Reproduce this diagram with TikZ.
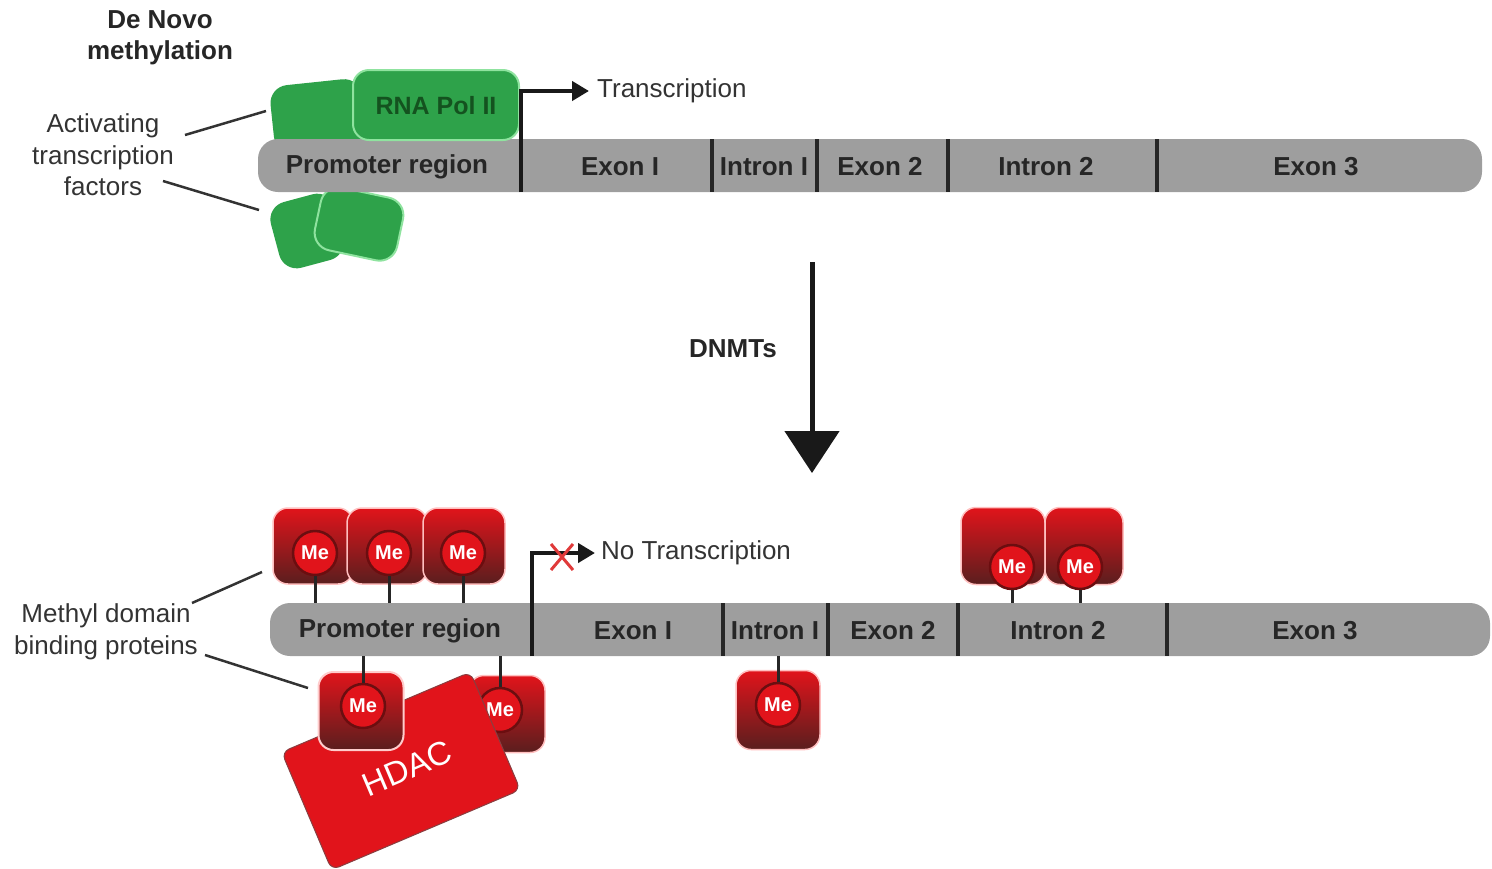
\documentclass[tikz,border=0pt]{standalone}
\usepackage{fontspec}
\setmainfont{Liberation Sans}
\usetikzlibrary{arrows.meta,calc}
\definecolor{dnagray}{HTML}{9E9E9E}
\definecolor{tfgreen}{HTML}{2EA24A}
\definecolor{tfedge}{HTML}{8FE39F}
\definecolor{polgreen}{HTML}{14521F}
\definecolor{mered}{HTML}{E1141B}
\definecolor{medark}{HTML}{5A1E1E}
\definecolor{meedge}{HTML}{6B0E10}
\definecolor{txtgray}{HTML}{333333}
\definecolor{xred}{HTML}{E03A3A}
\begin{document}
\begin{tikzpicture}[x=1pt,y=-1pt,
  dna/.style={fill=dnagray, rounded corners=20pt, minimum height=53pt, inner sep=0pt},
  seglabel/.style={font=\bfseries\fontsize{26}{30}\selectfont, text=black!85, inner sep=0pt},
  plain/.style={font=\fontsize{26}{31.5}\selectfont, text=txtgray, align=center, inner sep=0pt},
  boldlabel/.style={font=\bfseries\fontsize{26}{31}\selectfont, text=black!85, align=center, inner sep=0pt},
  divider/.style={line width=4pt, black!85},
  tfbox/.style={fill=tfgreen, rounded corners=18pt, inner sep=0pt},
  tfrim/.style={draw=tfedge, line width=2pt},
  mebox/.style={rounded corners=15pt, top color=mered, middle color=mered, bottom color=medark, draw=red!25, line width=1.5pt, inner sep=0pt},
  mecirc/.style={circle, minimum size=44pt, inner sep=0pt, fill=mered, draw=meedge, line width=2.5pt, text=white, font=\bfseries\fontsize{20}{24}\selectfont},
  stem/.style={line width=3pt, black!85},
  leader/.style={line width=2.5pt, txtgray},
  txarrow/.style={line width=4.5pt, black!90, -{Triangle[length=17pt,width=19pt]}},
]
\useasboundingbox (0,0) rectangle (1492,868);

% ---------- top panel ----------
\node[boldlabel] (denovo) at (160,38) {De Novo\\methylation};

% green factors behind bar
\node[tfbox, minimum width=92pt, minimum height=68pt, rotate=6] (tfback) at (318,116) {};
\node[tfbox, minimum width=66pt, minimum height=68pt, rotate=15] (tfb1) at (307,231) {};
\node[tfbox, tfrim, minimum width=84pt, minimum height=64pt, rotate=-12] (tfb2) at (359,224) {};

\node[dna, minimum width=1224pt] (bar1) at (870,165.5) {};
\node[tfbox, tfrim, minimum width=166pt, minimum height=70pt, rounded corners=16pt] (pol) at (436,105) {};
\node[font=\bfseries\fontsize{25}{30}\selectfont, text=polgreen] (poltext) at (436,106) {RNA Pol II};

\foreach \x in {712,817,948,1157} \draw[divider] (\x,139) -- (\x,192);
\node[seglabel] (p1) at (387,167) {Promoter region};
\node[seglabel] (e11) at (620,167) {Exon I};
\node[seglabel] (i11) at (764,167) {Intron I};
\node[seglabel] (e21) at (880,167) {Exon 2};
\node[seglabel] (i21) at (1046,167) {Intron 2};
\node[seglabel] (e31) at (1316,167) {Exon 3};

\coordinate (tss1) at (521,192);
\node[plain, anchor=west, inner xsep=8pt] (tx) at (589,91) {Transcription};
\draw[txarrow] (tss1) |- (tx.west);

\node[plain] (act) at (103,155) {Activating\\transcription\\factors};
\coordinate (a1) at (185,135);
\coordinate (a1e) at (266,111);
\coordinate (a2) at (163,181);
\coordinate (a2e) at (259,210);
\draw[leader] (a1) -- (a1e);
\draw[leader] (a2) -- (a2e);

% ---------- DNMTs arrow ----------
\coordinate (dstart) at (812,262);
\coordinate (dend) at (812,473);
\draw[line width=5pt, black!90, -{Triangle[length=42pt,width=54pt]}] (dstart) -- (dend);
\node[boldlabel] (dnmt) at (733,349) {DNMTs};

% ---------- bottom panel ----------
\node[dna, minimum width=1220pt] (bar2) at (880,629.5) {};
\foreach \x in {723,828,958,1167} \draw[divider] (\x,603) -- (\x,656);
\node[seglabel] (p2) at (400,631) {Promoter region};
\node[seglabel] (e12) at (633,631) {Exon I};
\node[seglabel] (i12) at (775,631) {Intron I};
\node[seglabel] (e22) at (893,631) {Exon 2};
\node[seglabel] (i22) at (1058,631) {Intron 2};
\node[seglabel] (e32) at (1315,631) {Exon 3};

\coordinate (tss2) at (532,656);
\node[plain, anchor=west, inner xsep=6pt] (ntx) at (595,553) {No Transcription};
\draw[txarrow] (tss2) |- (ntx.west);
\coordinate (xc) at (562,557);
\draw[xred, line width=3pt] ($(xc)+(-11,-13)$) -- ($(xc)+(11,13)$);
\draw[xred, line width=3pt] ($(xc)+(11,-13)$) -- ($(xc)+(-11,13)$);

% top promoter methyl-binding proteins
\node[mebox, minimum width=80pt, minimum height=76pt] (mb1) at (313,546) {};
\node[mebox, minimum width=80pt, minimum height=76pt] (mb2) at (387,546) {};
\node[mebox, minimum width=82pt, minimum height=76pt] (mb3) at (464,546) {};
\node[mecirc] (mc1) at (315,553) {Me};
\node[mecirc] (mc2) at (389,553) {Me};
\node[mecirc] (mc3) at (463,553) {Me};
\foreach \i in {1,2,3} \draw[stem] (mc\i.south) -- (mc\i.south |- bar2.north);

% intron 2 proteins
\node[mebox, minimum width=84pt, minimum height=77pt] (mb4) at (1003,546) {};
\node[mebox, minimum width=78pt, minimum height=77pt] (mb5) at (1084,546) {};
\node[mecirc] (mc4) at (1012,567) {Me};
\node[mecirc] (mc5) at (1080,567) {Me};
\foreach \i in {4,5} \draw[stem] (mc\i.south) -- (mc\i.south |- bar2.north);

% intron 1 protein
\node[mebox, minimum width=84pt, minimum height=79pt] (mb6) at (778,710) {};
\node[mecirc] (mc6) at (778,705) {Me};
\draw[stem] (mc6.north) -- (mc6.north |- bar2.south);

% promoter bottom: back protein, HDAC, front protein
\node[mebox, minimum width=76pt, minimum height=77pt] (mb7) at (507,714) {};
\node[mecirc] (mc7) at (500,710) {Me};
\draw[stem] (mc7.north) -- (mc7.north |- bar2.south);

\node[fill=mered, draw=meedge!80, line width=1pt, rounded corners=8pt, minimum width=205pt, minimum height=128pt, rotate=23, inner sep=0pt, text=white, font=\fontsize{33}{38}\selectfont] (hdac) at (401,771) {\raisebox{-12pt}{\hspace*{14pt}HDAC}};

\node[mebox, minimum width=85pt, minimum height=78pt, draw=red!20, line width=2pt] (mb8) at (361,711) {};
\node[mecirc] (mc8) at (363,706) {Me};
\draw[stem] (mc8.north) -- (mc8.north |- bar2.south);

% label
\node[plain] (methyl) at (106,632) {Methyl domain\\binding proteins};
\coordinate (m1) at (192,603);
\coordinate (m1e) at (262,572);
\coordinate (m2) at (205,655);
\coordinate (m2e) at (308,688);
\draw[leader] (m1) -- (m1e);
\draw[leader] (m2) -- (m2e);
\end{tikzpicture}
\end{document}
